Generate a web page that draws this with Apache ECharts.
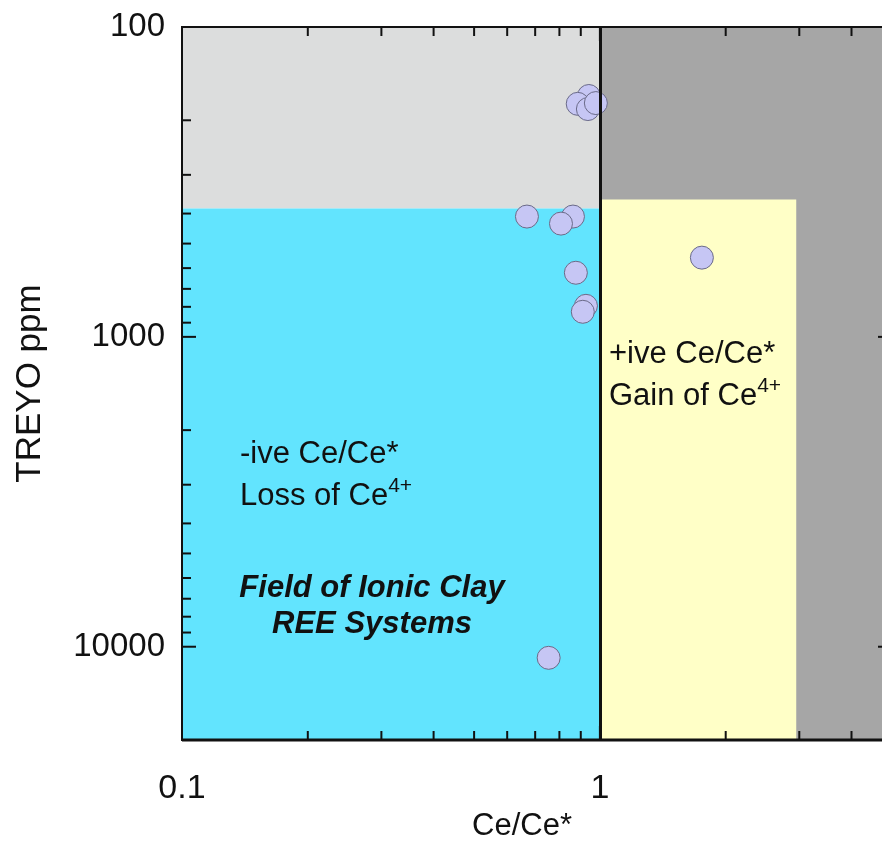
<!DOCTYPE html>
<html>
<head>
<meta charset="utf-8">
<title>Ce/Ce* vs TREYO</title>
<script src="https://cdn.jsdelivr.net/npm/echarts@6/dist/echarts.min.js"></script>
<style>
  html, body { margin: 0; padding: 0; background: #fff; }
  #chart { width: 882px; height: 848px; }
</style>
</head>
<body>
<div id="chart"></div>
<script>
// samples: Ce anomaly vs total rare earth oxides (ppm)
const ceAnomaly = [0.941, 0.885, 0.936, 0.978, 0.669, 0.862, 0.807, 0.876, 0.926, 0.91, 1.754, 0.754]
const treyo = [167, 177, 184, 176, 409, 409, 431, 621, 794, 830, 555, 10860]

// shaded fields [x0, x1, y0, y1]
const fieldBoxes = [
  [0.1, 1, 100, 385],
  [0.1, 1, 385, 20000],
  [1, 5, 100, 20000],
  [1, 2.95, 360, 20000]
]
const fieldColors = ['#dcdddd', '#62e4fe', '#a6a6a6', '#ffffc7']

const ceBoundary = 1
const xRange = [0.1, 5]
const yRange = [100, 20000]
const xMajorTicks = [0.1, 1]
const xMinorTicks = [0.2, 0.3, 0.4, 0.5, 0.6, 0.7, 0.8, 0.9, 2, 3, 4]
const yMajorTicks = [100, 1000, 10000]
const yMinorTicks = [200, 300, 400, 500, 600, 700, 800, 900,
  2000, 3000, 4000, 5000, 6000, 7000, 8000, 9000]

const FONT = "'Liberation Sans', Arial, sans-serif"

const chart = echarts.init(document.getElementById('chart'))

function isDecade(v) {
  const l = Math.log10(v)
  return Math.abs(l - Math.round(l)) < 1e-6
}

function renderField(params, api) {
  const p0 = api.coord([api.value(0), api.value(2)])
  const p1 = api.coord([api.value(1), api.value(3)])
  return {
    type: 'rect',
    shape: {
      x: Math.min(p0[0], p1[0]),
      y: Math.min(p0[1], p1[1]),
      width: Math.abs(p1[0] - p0[0]),
      height: Math.abs(p1[1] - p0[1])
    },
    style: { fill: fieldColors[params.dataIndex] }
  }
}

function renderFrame(params, api) {
  const cs = params.coordSys
  const left = cs.x
  const right = cs.x + cs.width
  const top = cs.y
  const bottom = cs.y + cs.height
  const children = []
  const line = (x1, y1, x2, y2, w) => children.push({
    type: 'line',
    shape: { x1, y1, x2, y2 },
    style: { stroke: '#111', lineWidth: w || 2 }
  })
  const xTick = (v, len) => {
    const px = api.coord([v, yRange[0]])[0]
    line(px, bottom, px, bottom - len)
    line(px, top, px, top + len)
  }
  const yTick = (v, len) => {
    const py = api.coord([xRange[0], v])[1]
    line(left, py, left + len, py)
    line(right, py, right - len, py)
  }
  xMajorTicks.forEach((v) => xTick(v, 14))
  xMinorTicks.forEach((v) => xTick(v, 9))
  yMajorTicks.forEach((v) => yTick(v, 14))
  yMinorTicks.forEach((v) => yTick(v, 9))
  children.push({
    type: 'rect',
    shape: { x: left, y: top, width: cs.width, height: cs.height },
    style: { fill: null, stroke: '#111', lineWidth: 2 }
  })
  line(left, bottom, right, bottom, 3)
  return { type: 'group', children }
}

const option = {
  animation: false,
  backgroundColor: '#fff',
  textStyle: { fontFamily: FONT },
  grid: { left: 182, top: 27, width: 710, height: 713, containLabel: false, outerBoundsMode: 'none' },
  xAxis: {
    type: 'log',
    logBase: 10,
    min: xRange[0],
    max: xRange[1],
    axisLine: { show: false },
    axisTick: { show: false },
    splitLine: { show: false },
    axisLabel: {
      fontSize: 34,
      color: '#111',
      margin: 32,
      formatter: (v) => (isDecade(v) ? String(+v.toPrecision(6)) : '')
    },
    name: 'Ce/Ce*',
    nameLocation: 'middle',
    nameGap: 62,
    nameTextStyle: { fontSize: 31, color: '#111', padding: [0, 30, 0, 0] }
  },
  yAxis: {
    type: 'log',
    logBase: 10,
    inverse: true,
    min: yRange[0],
    max: yRange[1],
    axisLine: { show: false },
    axisTick: { show: false },
    splitLine: { show: false },
    axisLabel: {
      fontSize: 33,
      color: '#111',
      margin: 17,
      formatter: (v) => (isDecade(v) ? String(+v.toPrecision(6)) : '')
    },
    name: 'TREYO ppm',
    nameLocation: 'middle',
    nameGap: 134,
    nameTextStyle: { fontSize: 35, color: '#111' }
  },
  graphic: [
    {
      type: 'text', x: 240, y: 454, z: 20,
      style: { text: '-ive Ce/Ce*', fontSize: 31, fontFamily: FONT, fill: '#111', verticalAlign: 'middle' }
    },
    {
      type: 'text', x: 240, y: 496, z: 20,
      style: {
        text: '{n|Loss of Ce}{s|4+}',
        verticalAlign: 'middle',
        rich: {
          n: { fontSize: 31, fontFamily: FONT, fill: '#111', lineHeight: 40 },
          s: { fontSize: 21, fontFamily: FONT, fill: '#111', lineHeight: 22, verticalAlign: 'top' }
        }
      }
    },
    {
      type: 'text', x: 609, y: 354, z: 20,
      style: { text: '+ive Ce/Ce*', fontSize: 31, fontFamily: FONT, fill: '#111', verticalAlign: 'middle' }
    },
    {
      type: 'text', x: 609, y: 396, z: 20,
      style: {
        text: '{n|Gain of Ce}{s|4+}',
        verticalAlign: 'middle',
        rich: {
          n: { fontSize: 31, fontFamily: FONT, fill: '#111', lineHeight: 40 },
          s: { fontSize: 21, fontFamily: FONT, fill: '#111', lineHeight: 22, verticalAlign: 'top' }
        }
      }
    },
    {
      type: 'text', x: 372, y: 588, z: 20,
      style: {
        text: 'Field of Ionic Clay', fontSize: 31, fontFamily: FONT, fontWeight: 'bold',
        fontStyle: 'italic', fill: '#111', align: 'center', verticalAlign: 'middle'
      }
    },
    {
      type: 'text', x: 372, y: 624, z: 20,
      style: {
        text: 'REE Systems', fontSize: 31, fontFamily: FONT, fontWeight: 'bold',
        fontStyle: 'italic', fill: '#111', align: 'center', verticalAlign: 'middle'
      }
    }
  ],
  series: [
    {
      name: 'fields',
      type: 'custom',
      z: 1,
      silent: true,
      clip: true,
      encode: { x: [0, 1], y: [2, 3] },
      renderItem: renderField,
      data: fieldBoxes
    },
    {
      name: 'samples',
      type: 'scatter',
      z: 3,
      symbolSize: 23,
      itemStyle: { color: '#c6c6f4', borderColor: '#6a6a88', borderWidth: 1, opacity: 1 },
      data: ceAnomaly.map((x, i) => [x, treyo[i]]),
      markLine: {
        silent: true,
        symbol: 'none',
        animation: false,
        label: { show: false },
        lineStyle: { color: '#111', width: 3, type: 'solid' },
        data: [{ xAxis: ceBoundary }]
      }
    },
    {
      name: 'frame',
      type: 'custom',
      z: 10,
      silent: true,
      clip: false,
      renderItem: renderFrame,
      data: [[1, 1000]]
    }
  ]
}

chart.setOption(option)
</script>
</body>
</html>
